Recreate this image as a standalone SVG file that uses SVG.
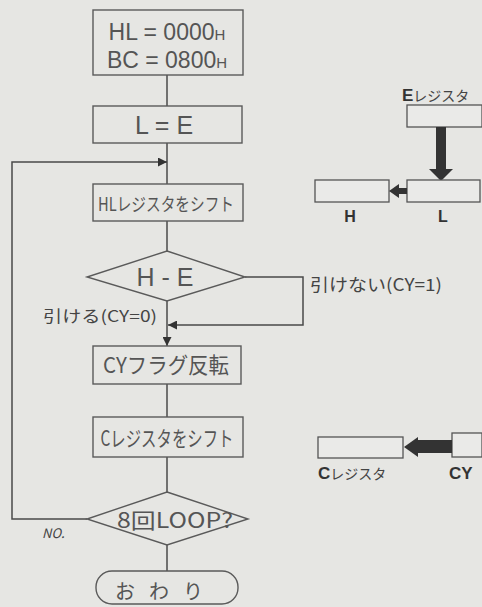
<svg xmlns="http://www.w3.org/2000/svg" width="482" height="607" viewBox="0 0 482 607">
<style>
.bx{fill:none;stroke:#5a5a5a;stroke-width:1.4}
.ln{fill:none;stroke:#4a4a4a;stroke-width:1.5}
.t{font-family:"Noto Sans CJK JP","Noto Sans",sans-serif;fill:#555;text-anchor:middle}
.tl{font-family:"Liberation Sans",Arial,sans-serif;fill:#555;text-anchor:middle}
.lb{font-family:"Noto Sans CJK JP","Noto Sans",sans-serif;fill:#444}
.bd{font-family:"Liberation Sans",Arial,sans-serif;font-weight:bold;fill:#333}
.reg{fill:#eaeae8;stroke:#555;stroke-width:1.3}
</style>
<defs>
<marker id="ah" viewBox="0 0 10 10" refX="10" refY="5" markerWidth="9" markerHeight="9" markerUnits="userSpaceOnUse" orient="auto">
<path d="M0,0 L10,5 L0,10 z" fill="#333"/>
</marker>
</defs>
<rect width="482" height="607" fill="#e6e6e3"/>

<g id="connectors">
<line class="ln" x1="167" y1="75" x2="167" y2="106"/>
<line class="ln" x1="167" y1="143" x2="167" y2="184"/>
<polyline class="ln" points="87,519 12,519 12,162 167,162" marker-end="url(#ah)"/>
<line class="ln" x1="167" y1="221" x2="167" y2="251"/>
<polyline class="ln" points="245,277 303,277 303,325 168,325" marker-end="url(#ah)"/>
<line class="ln" x1="167" y1="301" x2="167" y2="346" marker-end="url(#ah)"/>
<line class="ln" x1="167" y1="384" x2="167" y2="417"/>
<line class="ln" x1="167" y1="457" x2="167" y2="492"/>
<line class="ln" x1="167" y1="545" x2="167" y2="571"/>
</g>

<g id="init">
<rect class="bx" x="93" y="10" width="150" height="65"/>
<text class="tl" x="167" y="40" font-size="23">HL = 0000<tspan font-size="15">H</tspan></text>
<text class="tl" x="167" y="68" font-size="23">BC = 0800<tspan font-size="15">H</tspan></text>
</g>

<g id="le">
<rect class="bx" x="93" y="106" width="149" height="37"/>
<text class="tl" x="164" y="134" font-size="25">L = E</text>
</g>

<g id="shiftHL">
<rect class="bx" x="93" y="184" width="150" height="37"/>
<text class="t" x="166" y="211" font-size="18" textLength="136" lengthAdjust="spacingAndGlyphs">HLレジスタをシフト</text>
</g>

<g id="cmp">
<polygon class="bx" points="167,251 245,277 167,301 87,277"/>
<text class="tl" x="165" y="286" font-size="25">H - E</text>
</g>
<text class="lb" x="43" y="322" font-size="16" textLength="114" lengthAdjust="spacingAndGlyphs">引ける(CY=0)</text>
<text class="lb" x="310" y="291" font-size="17" textLength="132" lengthAdjust="spacingAndGlyphs">引けない(CY=1)</text>

<g id="cyflip">
<rect class="bx" x="93" y="346" width="148" height="38"/>
<text class="t" x="166" y="373" font-size="22" textLength="126" lengthAdjust="spacingAndGlyphs">CYフラグ反転</text>
</g>

<g id="shiftC">
<rect class="bx" x="93" y="417" width="150" height="40"/>
<text class="t" x="167" y="446" font-size="21" textLength="133" lengthAdjust="spacingAndGlyphs">Cレジスタをシフト</text>
</g>

<g id="loop">
<polygon class="bx" points="167,492 248,519 167,545 87,519"/>
<text class="t" x="175" y="528" font-size="21" textLength="116" lengthAdjust="spacingAndGlyphs">8回LOOP?</text>
</g>
<text class="lb" x="42" y="538" font-size="13" font-style="italic">NO.</text>

<g id="end">
<rect class="bx" x="96" y="571" width="142" height="33" rx="16" ry="16"/>
<text class="t" x="166" y="599" font-size="20" letter-spacing="14">おわり</text>
</g>

<g id="regHL">
<text class="bd" x="402" y="101" font-size="17">E<tspan class="lb" font-weight="normal" font-size="14">レジスタ</tspan></text>
<rect class="reg" x="407" y="105" width="75" height="22"/>
<rect x="436" y="127" width="10" height="45" fill="#333"/>
<path d="M429,169 L453,169 L441,181 z" fill="#333"/>
<rect class="reg" x="315" y="180" width="74" height="22"/>
<rect class="reg" x="407" y="180" width="73" height="22"/>
<rect x="396" y="188" width="11" height="6" fill="#333"/>
<path d="M389,191 L399,184 L399,198 z" fill="#333"/>
<text class="bd" x="350" y="222" font-size="16" text-anchor="middle">H</text>
<text class="bd" x="443" y="222" font-size="16" text-anchor="middle">L</text>
</g>

<g id="regC">
<rect class="reg" x="318" y="437" width="85" height="21"/>
<rect class="reg" x="452" y="433" width="30" height="24"/>
<rect x="416" y="440" width="36" height="13" fill="#333"/>
<path d="M404,447 L418,437 L418,457 z" fill="#333"/>
<text class="bd" x="318" y="479" font-size="17">C<tspan class="lb" font-weight="normal" font-size="14">レジスタ</tspan></text>
<text class="bd" x="449" y="479" font-size="17">CY</text>
</g>
</svg>
